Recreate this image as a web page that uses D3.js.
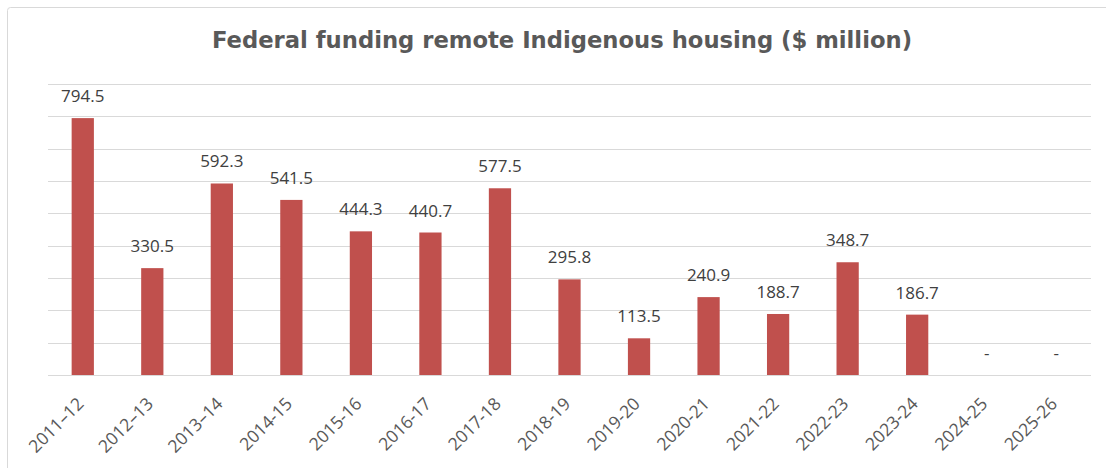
<!DOCTYPE html>
<html>
<head>
<meta charset="utf-8">
<script src="https://cdn.jsdelivr.net/npm/d3@7"></script>
<style>
  body { margin: 0; background: #fff; }
  svg { display: block; }
</style>
</head>
<body>
<svg id="chart" width="1106" height="468"></svg>
<script>
const years = [
  "2011–12", "2012–13", "2013–14", "2014-15", "2015-16", "2016-17", "2017-18",
  "2018-19", "2019-20", "2020-21", "2021-22", "2022-23", "2023-24", "2024-25", "2025-26"
];
const funding = [794.5, 330.5, 592.3, 541.5, 444.3, 440.7, 577.5, 295.8, 113.5, 240.9, 188.7, 348.7, 186.7, 0, 0];
const gridTicks = [0, 100, 200, 300, 400, 500, 600, 700, 800, 900];

const data = years.map((y, i) => ({ year: y, value: funding[i] }));

const svg = d3.select("#chart"),
  margin = { top: 84, right: 15, bottom: 93, left: 48 },
  width = +svg.attr("width") - margin.left - margin.right,
  height = +svg.attr("height") - margin.top - margin.bottom;

// outer chart frame
svg.append("rect")
  .attr("x", 7.5)
  .attr("y", 7.5)
  .attr("width", 1110)
  .attr("height", 470)
  .attr("rx", 3)
  .attr("fill", "none")
  .attr("stroke", "#d9d9d9");

const g = svg.append("g")
  .attr("transform", `translate(${margin.left},${margin.top})`);

const x = d3.scaleBand().domain(years).range([0, width]).paddingInner(0.68).paddingOuter(0.34);
const y = d3.scaleLinear().domain([0, 900]).range([height, 0]);

// gridlines
g.selectAll("line.grid")
  .data(gridTicks)
  .enter()
  .append("line")
  .attr("class", "grid")
  .attr("x1", 0)
  .attr("x2", width)
  .attr("y1", (d) => Math.round(y(d)) + 0.5)
  .attr("y2", (d) => Math.round(y(d)) + 0.5)
  .attr("stroke", "#d9d9d9")
  .attr("stroke-width", 1);

// bars
g.selectAll("rect.bar")
  .data(data)
  .enter()
  .append("rect")
  .attr("class", "bar")
  .attr("x", (d) => x(d.year))
  .attr("y", (d) => y(d.value))
  .attr("width", x.bandwidth())
  .attr("height", (d) => height - y(d.value))
  .attr("fill", "#c0504d");

// value labels
g.selectAll("text.val")
  .data(data)
  .enter()
  .append("text")
  .attr("class", "val")
  .attr("x", (d) => x(d.year) + x.bandwidth() / 2)
  .attr("y", (d) => y(d.value) - 16)
  .attr("text-anchor", "middle")
  .attr("font-family", "'Open Sans', sans-serif")
  .attr("font-size", "17px")
  .attr("fill", "#404040")
  .text((d) => (d.value === 0 ? "-" : d3.format(".1f")(d.value)));

// x axis labels
const xAxis = g.append("g")
  .attr("transform", `translate(0,${height})`)
  .call(d3.axisBottom(x).tickSize(0).tickPadding(0));
xAxis.select(".domain").remove();
xAxis.selectAll("text")
  .attr("font-family", "'Open Sans', sans-serif")
  .attr("font-size", "17.5px")
  .attr("fill", "#595959")
  .attr("text-anchor", "end")
  .attr("dy", null)
  .attr("transform", "translate(2,30) rotate(-45)");

// title
svg.append("text")
  .attr("x", 562)
  .attr("y", 48)
  .attr("text-anchor", "middle")
  .attr("font-family", "'DejaVu Sans', sans-serif")
  .attr("font-size", "22.7px")
  .attr("font-weight", "bold")
  .attr("fill", "#595959")
  .text("Federal funding remote Indigenous housing ($ million)");
</script>
</body>
</html>
